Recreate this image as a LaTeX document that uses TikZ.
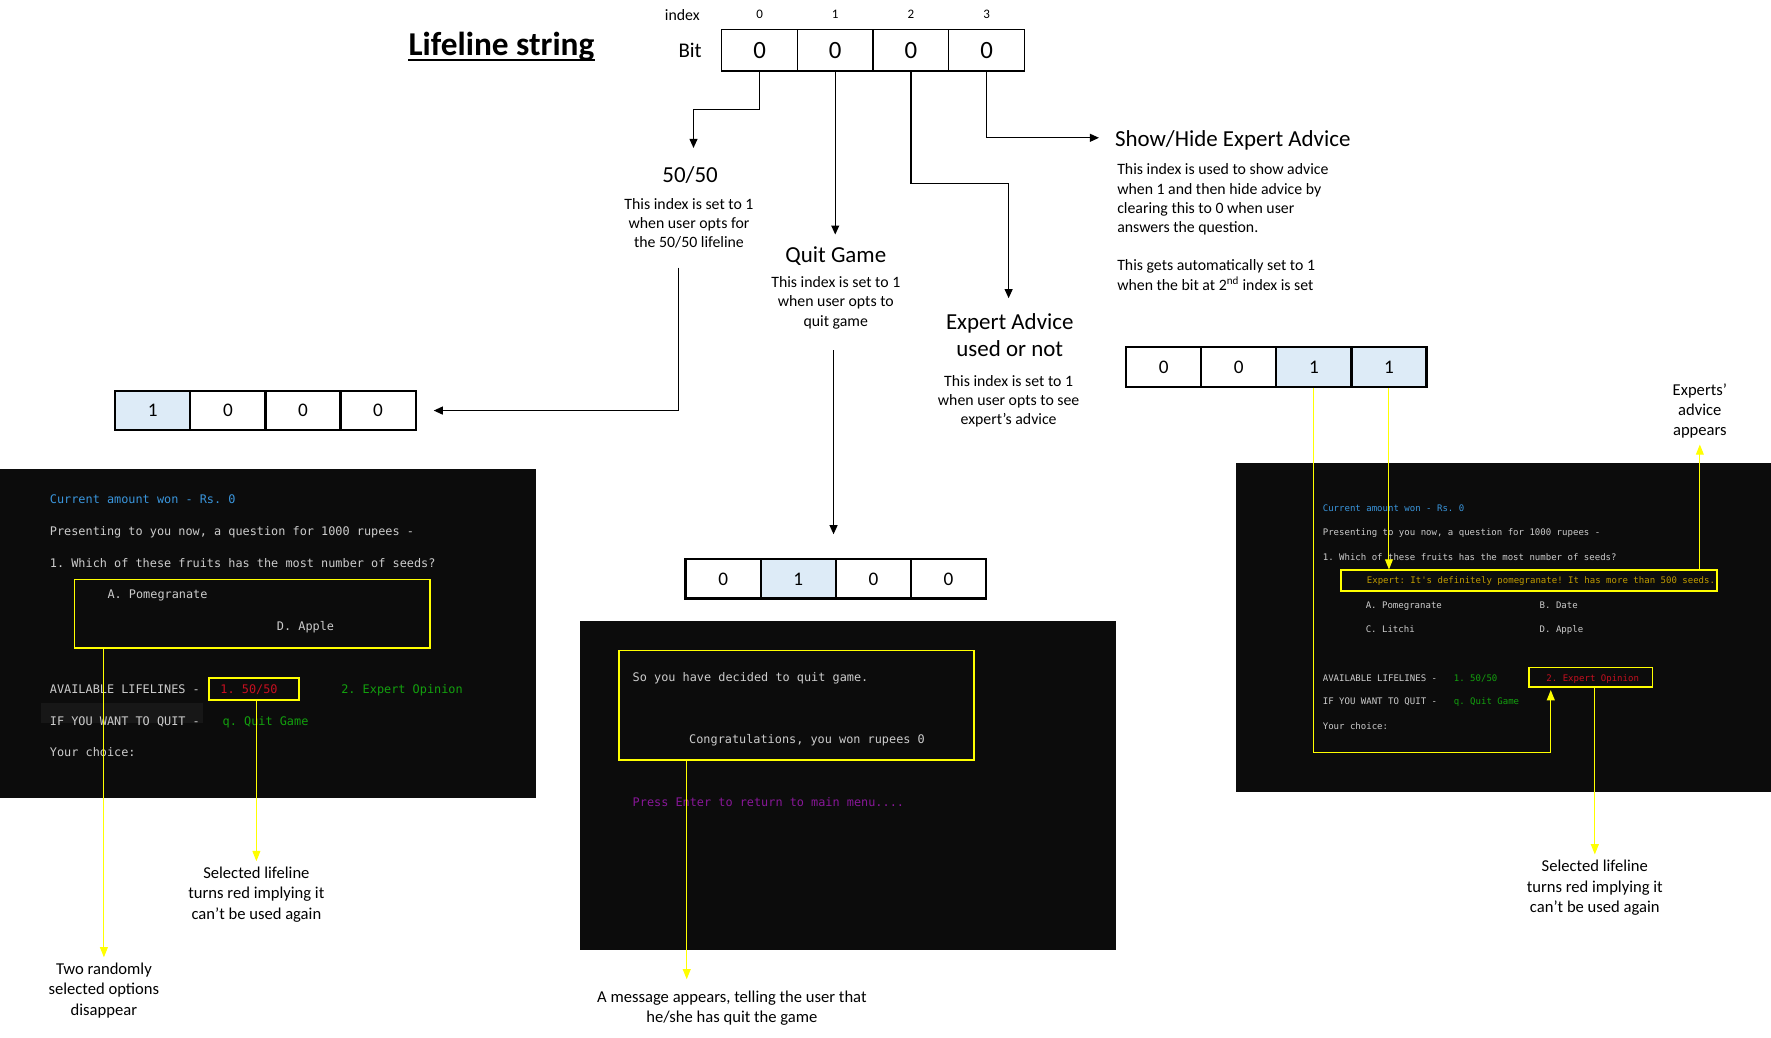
\documentclass[tikz,border=0pt]{standalone}
\usepackage{fontspec}
\setmainfont{Carlito}
\setmonofont{DejaVu Sans Mono}
\usetikzlibrary{arrows.meta,positioning}

\definecolor{cellblue}{HTML}{DDEBF7}
\definecolor{termbg}{HTML}{0C0C0C}
\definecolor{termhl}{HTML}{171717}
\definecolor{tgray}{HTML}{CCCCCC}
\definecolor{tblue}{HTML}{3A96DD}
\definecolor{tgreen}{HTML}{13A10E}
\definecolor{tred}{HTML}{C50F1F}
\definecolor{tpurple}{HTML}{881798}
\definecolor{tyellow}{HTML}{C19C00}
\definecolor{hl}{HTML}{FFFF00}

\tikzset{
  cell/.style={draw,line width=1.3pt,minimum width=67pt,minimum height=37pt,inner sep=0pt,font=\fontsize{22}{22}\selectfont},
  bitcell/.style={draw,line width=2pt,minimum width=66.5pt,minimum height=35pt,inner sep=0pt,font=\fontsize{17}{17}\selectfont},
  bitset/.style={fill=cellblue},
  head/.style={font=\fontsize{20.3}{24}\selectfont,inner sep=0pt},
  desc/.style={font=\fontsize{14}{17}\selectfont,align=center,inner sep=0pt},
  note/.style={font=\fontsize{14.7}{18}\selectfont,align=center,inner sep=5pt},
  arr/.style={line width=1.1pt,-{Triangle[width=7pt,length=8pt]}},
  yarr/.style={hl,line width=0.9pt,-{Triangle[width=7pt,length=9pt]}},
  ybox/.style={draw=hl,line width=1.6pt,inner sep=0pt},
  term/.style={fill=termbg,inner sep=0pt,anchor=north west},
  tt/.style={anchor=base west,inner sep=0pt,text=tgray,font=\ttfamily\fontsize{10.5}{12}\selectfont},
  tts/.style={tt,font=\ttfamily\fontsize{8}{9}\selectfont}
}

\begin{document}
\begin{tikzpicture}[x=1pt,y=-1pt]
\useasboundingbox (0,0) rectangle (1568,919);

% lifeline string
\node[font=\bfseries\fontsize{29.5}{29.5}\selectfont,inner sep=0pt] (title) at (444,41) {Lifeline string};
\draw[line width=2pt] ([yshift=-4.5pt]title.base west) -- ([yshift=-4.5pt]title.base east);
\node[font=\fontsize{14}{14}\selectfont,anchor=east] (idx) at (623,13) {index};
\node[font=\fontsize{18.5}{18.5}\selectfont] (bit) at (611,45) {Bit};
\foreach \b [count=\i from 0] in {0,0,0,0}
  \node[cell] (t\i) at (672.5+67*\i,44.5) {\b};
\foreach \i in {0,...,3}
  \node[font=\fontsize{11.5}{11.5}\selectfont] (ix\i) at (t\i.north |- 0,13) {\i};

% what each index means
\node[head] (ff) at (611,155) {50/50};
\node[desc] (ffd) at (610,197.5) {This index is set to 1\\when user opts for\\the 50/50 lifeline};
\node[head] (qg) at (740,227) {Quit Game};
\node[desc] (qgd) at (740,268) {This index is set to 1\\when user opts to\\quit game};
\node[head,align=center] (ea) at (894,297) {Expert Advice\\used or not};
\node[desc] (ead) at (893,355.5) {This index is set to 1\\when user opts to see\\expert’s advice};
\node[head,anchor=west] (sh) at (987,124) {Show/Hide Expert Advice};
\node[desc,align=left,anchor=west] (shd) at (989,201) {This index is used to show advice\\when 1 and then hide advice by\\clearing this to 0 when user\\answers the question.\\[17pt]This gets automatically set to 1\\when the bit at 2\textsuperscript{nd} index is set};

\coordinate (a0) at (614,131);
\coordinate (a2) at (893,264);
\coordinate (a3) at (973,122);
\draw[arr] (t0.south) -- ++(0,33) -| (a0);
\draw[arr] (t1.south) -- ++(0,144);
\draw[arr] (t2.south) -- ++(0,99) -| (a2);
\draw[arr] (t3.south) |- (a3);

% strings after a lifeline is used
\foreach \b/\s [count=\i from 0] in {1/bitset,0/,0/,0/}
  \node[bitcell,\s] (lb\i) at (135.25+66.5*\i,363.5) {\b};
\foreach \b/\s [count=\i from 0] in {0/,1/bitset,0/,0/}
  \node[bitcell,\s] (mb\i) at (640.25+66.5*\i,512.5) {\b};
\foreach \b/\s [count=\i from 0] in {0/,0/,1/bitset,1/bitset}
  \node[bitcell,\s] (rb\i) at (1030.25+66.5*\i,325) {\b};

\coordinate (f0) at (601,237);
\coordinate (q0) at (738,310);
\draw[arr] (f0) |- ([xshift=15pt]lb3.east);
\draw[arr] (q0) -- ++(0,163);

% 50/50 screen
\node[term,minimum width=474pt,minimum height=291pt] (lt) at (0,415) {};
\fill[termhl] (36,622) rectangle (180,640);
\node[tt,text=tblue] (lt1) at (44,446) {Current amount won - Rs. 0};
\node[tt] (lt2) at (44,474) {Presenting to you now, a question for 1000 rupees -};
\node[tt] (lt3) at (44,502) {1. Which of these fruits has the most number of seeds?};
\node[ybox,minimum width=315pt,minimum height=61pt] (lopt) at (223.5,543.5) {};
\node[tt] (lta) at (95,530) {A. Pomegranate};
\node[tt] (ltd) at (245,558) {D. Apple};
\node[tt] (lt4) at (44,614) {AVAILABLE LIFELINES -};
\node[ybox,minimum width=80pt,minimum height=20pt] (lred) at (225,610) {};
\node[tt,text=tred] (lt5) at (195,614) {1. 50/50};
\node[tt,text=tgreen] (lt6) at (302,614) {2. Expert Opinion};
\node[tt] (lt7) at (44,642) {IF YOU WANT TO QUIT -};
\node[tt,text=tgreen] (lt8) at (197,642) {q. Quit Game};
\node[tt] (lt9) at (44,670) {Your choice:};

\node[note] (tro) at (92,877) {Two randomly\\selected options\\disappear};
\node[note] (sl) at (227,792) {Selected lifeline\\turns red implying it\\can’t be used again};
\draw[yarr] (lopt.south -| tro.north) -- (tro.north);
\draw[yarr] (lred.south -| sl.north) -- (sl.north);

% quit screen
\node[term,minimum width=475pt,minimum height=291pt] (mt) at (513,550) {};
\node[ybox,minimum width=314pt,minimum height=97pt] (mbox) at (705,624.5) {};
\node[tt] (mt1) at (560,603) {So you have decided to quit game.};
\node[tt] (mt2) at (610,658) {Congratulations, you won rupees 0};
\node[tt,text=tpurple] (mt3) at (560,714) {Press Enter to return to main menu....};
\coordinate (m0) at (608,867);
\draw[yarr] (mbox.south -| m0) -- (m0);
\node[note] (msg) at (648,892.5) {A message appears, telling the user that\\he/she has quit the game};

% expert advice screen
\node[term,minimum width=474pt,minimum height=291pt] (rt) at (1094,410) {};
\node[tts,text=tblue] (rt1) at (1171,453) {Current amount won - Rs. 0};
\node[tts] (rt2) at (1171,474) {Presenting to you now, a question for 1000 rupees -};
\node[tts] (rt3) at (1171,496) {1. Which of these fruits has the most number of seeds?};
\node[ybox,minimum width=333pt,minimum height=18pt] (rexp) at (1353.5,514) {};
\node[tts,text=tyellow] (rtx) at (1210,517) {Expert: It's definitely pomegranate! It has more than 500 seeds.};
\node[tts] (rta) at (1209,539) {A. Pomegranate};
\node[tts] (rtb) at (1363,539) {B. Date};
\node[tts] (rtc) at (1209,560) {C. Litchi};
\node[tts] (rtd) at (1363,560) {D. Apple};
\node[tts] (rt4) at (1171,603) {AVAILABLE LIFELINES -};
\node[tts,text=tgreen] (rt5) at (1287,603) {1. 50/50};
\node[ybox,minimum width=109pt,minimum height=17pt] (rred) at (1408.5,599.5) {};
\node[tts,text=tred] (rt6) at (1369,603) {2. Expert Opinion};
\node[tts] (rt7) at (1171,624) {IF YOU WANT TO QUIT -};
\node[tts,text=tgreen] (rt8) at (1287,624) {q. Quit Game};
\node[tts] (rt9) at (1171,646) {Your choice:};

\coordinate (rtip) at (1373,611);
\draw[yarr] (rb2.south) -- ++(0,323) -| (rtip);
\draw[yarr] (rb3.south) -- (rb3.south |- rexp.north);
\node[note] (eap) at (1505,364) {Experts’\\advice\\appears};
\draw[yarr] (rexp.north -| eap.south) -- (eap.south);
\node[note] (sl2) at (1412,786) {Selected lifeline\\turns red implying it\\can’t be used again};
\draw[yarr] (rred.south -| sl2.north) -- (sl2.north);
\end{tikzpicture}
\end{document}
